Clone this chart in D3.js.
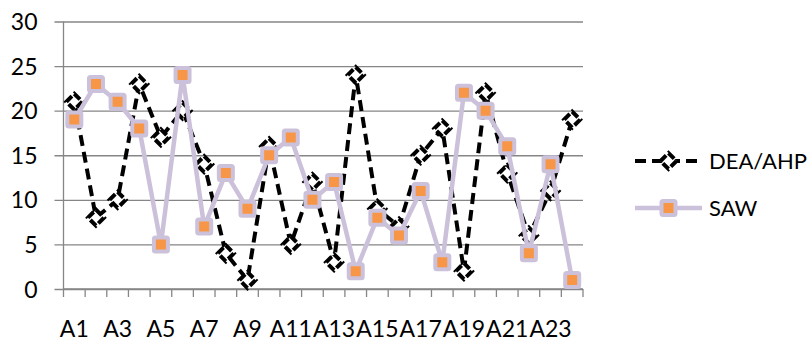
<!DOCTYPE html>
<html>
<head>
<meta charset="utf-8">
<script src="https://cdn.jsdelivr.net/npm/d3@7"></script>
<style>
  html, body { margin: 0; padding: 0; background: #fff; }
  svg { display: block; }
  text { font-family: "Lato", "Open Sans", sans-serif; fill: #000; }
</style>
</head>
<body>
<div id="chart"></div>
<script>
// Alternatives A1..A24 and the rank each method gives them
const categories = d3.range(1, 25).map(i => "A" + i);
const deaAhp = [21, 8, 10, 23, 17, 20, 14, 4, 1, 16, 5, 12, 3, 24, 9, 7, 15, 18, 2, 22, 13, 6, 11, 19];
const saw    = [19, 23, 21, 18, 5, 24, 7, 13, 9, 15, 17, 10, 12, 2, 8, 6, 11, 3, 22, 20, 16, 4, 14, 1];
const yTicks = [0, 5, 10, 15, 20, 25, 30];
const seriesNames = ["DEA/AHP", "SAW"];

const W = 811, H = 342;
const plot = { left: 63.5, right: 583, top: 21.5, bottom: 289 };
const fontSize = 23;

const svg = d3.select("#chart").append("svg")
  .attr("width", W).attr("height", H);

const x = d3.scaleBand().domain(categories).range([plot.left, plot.right]);
const y = d3.scaleLinear().domain([0, 30]).range([plot.bottom, plot.top]);

const gridColor = "#868686";

// Horizontal gridlines with short outward ticks
const yAxis = svg.append("g")
  .attr("transform", `translate(${plot.left},0)`)
  .call(d3.axisLeft(y).tickValues(yTicks).tickSize(-(plot.right - plot.left)).tickPadding(26).tickFormat(d3.format("d")));
yAxis.select(".domain").remove();
yAxis.selectAll(".tick line").attr("stroke", gridColor).attr("stroke-width", 1.3).attr("x1", -9);
yAxis.selectAll(".tick text").attr("font-size", fontSize).attr("dy", "0.35em");

// Vertical axis line
svg.append("line")
  .attr("x1", plot.left).attr("x2", plot.left)
  .attr("y1", plot.top).attr("y2", plot.bottom)
  .attr("stroke", gridColor).attr("stroke-width", 1.3);

// Category axis: ticks on every band boundary, labels on every other category
const xAxis = svg.append("g").attr("transform", `translate(0,${plot.bottom})`);
xAxis.append("line")
  .attr("x1", plot.left).attr("x2", plot.right)
  .attr("stroke", gridColor).attr("stroke-width", 1.3);
const boundaries = categories.map(c => x(c)).concat([plot.right]);
xAxis.selectAll("line.tk").data(boundaries).join("line")
  .attr("class", "tk")
  .attr("x1", d => d).attr("x2", d => d)
  .attr("y1", 0).attr("y2", 8)
  .attr("stroke", gridColor).attr("stroke-width", 1.3);
xAxis.selectAll("text").data(categories.filter((c, i) => i % 2 === 0)).join("text")
  .attr("x", d => x(d) + x.bandwidth() / 2)
  .attr("y", 48)
  .attr("text-anchor", "middle")
  .attr("font-size", fontSize)
  .text(d => d);

const cx = i => x(categories[i]) + x.bandwidth() / 2;
const line = d3.line().x((d, i) => cx(i)).y(d => y(d));

const dash = "11,6";
// Diamond marker: a square turned 45 degrees
const r = 8;
const diamondPath = `M0,${-r}L${r},0L0,${r}L${-r},0Z`;

// DEA/AHP series: dashed black line with hollow dashed diamonds
const gDea = svg.append("g");
gDea.append("path")
  .datum(deaAhp)
  .attr("d", line)
  .attr("fill", "none")
  .attr("stroke", "#000")
  .attr("stroke-width", 4)
  .attr("stroke-dasharray", dash);
gDea.selectAll("path.m").data(deaAhp).join("path")
  .attr("class", "m")
  .attr("d", diamondPath)
  .attr("transform", (d, i) => `translate(${cx(i)},${y(d)})`)
  .attr("fill", "#fff")
  .attr("stroke", "#000")
  .attr("stroke-width", 4)
  .attr("stroke-dasharray", "8,3.3");

// SAW series: lavender line with orange square markers
const sawLine = "#CCC1DA", sawFill = "#F79646";
const gSaw = svg.append("g");
gSaw.append("path")
  .datum(saw)
  .attr("d", line)
  .attr("fill", "none")
  .attr("stroke", sawLine)
  .attr("stroke-width", 4.5)
  .attr("stroke-linejoin", "round");
const sq = 14;
gSaw.selectAll("rect").data(saw).join("rect")
  .attr("x", (d, i) => cx(i) - sq / 2)
  .attr("y", d => y(d) - sq / 2)
  .attr("width", sq).attr("height", sq)
  .attr("rx", 1.5)
  .attr("fill", sawFill)
  .attr("stroke", sawLine)
  .attr("stroke-width", 4);

// Legend
const legend = svg.append("g");
const lx0 = 635, lx1 = 702, lxm = (lx0 + lx1) / 2;
const legendY = [161, 208];

legend.append("line")
  .attr("x1", lx0).attr("x2", lx1).attr("y1", legendY[0]).attr("y2", legendY[0])
  .attr("stroke", "#000").attr("stroke-width", 4).attr("stroke-dasharray", dash);
legend.append("path")
  .attr("d", diamondPath)
  .attr("transform", `translate(${lxm},${legendY[0]})`)
  .attr("fill", "#fff").attr("stroke", "#000").attr("stroke-width", 4)
  .attr("stroke-dasharray", "8,3.3");

legend.append("line")
  .attr("x1", lx0).attr("x2", lx1).attr("y1", legendY[1]).attr("y2", legendY[1])
  .attr("stroke", sawLine).attr("stroke-width", 4.5);
legend.append("rect")
  .attr("x", lxm - sq / 2).attr("y", legendY[1] - sq / 2)
  .attr("width", sq).attr("height", sq).attr("rx", 1.5)
  .attr("fill", sawFill).attr("stroke", sawLine).attr("stroke-width", 4);

legend.selectAll("text").data(seriesNames).join("text")
  .attr("x", 709)
  .attr("y", (d, i) => legendY[i])
  .attr("dy", "0.35em")
  .attr("font-size", 22)
  .text(d => d);
</script>
</body>
</html>
